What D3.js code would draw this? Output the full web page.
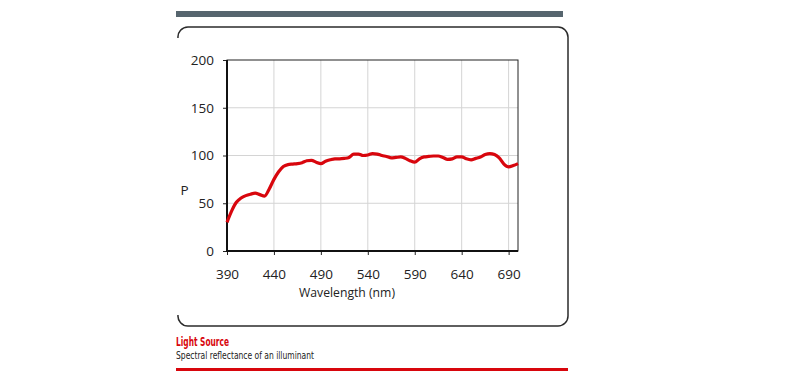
<!DOCTYPE html>
<html lang="en">
<head>
<meta charset="UTF-8">
<script src="https://d3js.org/d3.v7.min.js"></script>
<style>
  body { margin: 0; background: #fff; }
  svg { display: block; }
</style>
</head>
<body>
<div id="container"></div>
<script>
// wavelength (nm) and relative power
const wavelengths = [390, 395, 400, 405, 410, 415, 420, 425, 430, 435, 440, 445, 450, 455, 460, 465,
  470, 475, 480, 485, 490, 495, 500, 505, 510, 515, 520, 525, 530, 535, 540, 545, 550, 555, 560,
  565, 570, 575, 580, 585, 590, 595, 600, 605, 610, 615, 620, 625, 630, 635, 640, 645, 650, 655,
  660, 665, 670, 675, 680, 685, 690, 695, 700];
const power = [30, 42, 51, 55.5, 58, 59.5, 60.5, 59, 57.5, 65, 75, 83, 88.5, 90.5, 91, 91.5,
  92.5, 94.5, 95, 93, 91.5, 94, 95.5, 96.5, 96.5, 97, 98, 101.5, 101.5, 100, 100.5, 102, 101.5,
  100, 99, 97.5, 98, 98.5, 97, 94.5, 93, 96.5, 98.5, 99, 99.5, 99.5, 98, 96, 96.5, 98.5, 98.5,
  96.5, 95.5, 97, 98.5, 101, 102, 101, 97.5, 91, 88, 89.5, 91.5];
const xTicks = [390, 440, 490, 540, 590, 640, 690];
const yTicks = [0, 50, 100, 150, 200];

const W = 799, H = 380;
const plot = { left: 227, right: 518, top: 60, bottom: 251 };

const svg = d3.select("#container").append("svg")
  .attr("width", W)
  .attr("height", H);

// top grey band
svg.append("rect")
  .attr("x", 176).attr("y", 11)
  .attr("width", 387).attr("height", 6)
  .attr("fill", "#56656e");

// frame: rounded on the right, only corner hooks on the left
const r = 10, bx0 = 178, bx1 = 568, by0 = 27, by1 = 326;
svg.append("path")
  .attr("d", `M${bx0},${by0 + r + 1} A${r},${r} 0 0 1 ${bx0 + r},${by0}` +
    ` H${bx1 - r} A${r},${r} 0 0 1 ${bx1},${by0 + r} V${by1 - r}` +
    ` A${r},${r} 0 0 1 ${bx1 - r},${by1} H${bx0 + r} A${r},${r} 0 0 1 ${bx0},${by1 - r - 1}`)
  .attr("fill", "none")
  .attr("stroke", "#2b2b2b")
  .attr("stroke-width", 1.5);

const x = d3.scaleLinear().domain([390, 700]).range([plot.left, plot.right]);
const y = d3.scaleLinear().domain([0, 200]).range([plot.bottom, plot.top]);

// grid
svg.append("g")
  .selectAll("line")
  .data(xTicks.slice(1))
  .join("line")
  .attr("x1", d => x(d)).attr("x2", d => x(d))
  .attr("y1", plot.top).attr("y2", plot.bottom)
  .attr("stroke", "#d4d4d4");
svg.append("g")
  .selectAll("line")
  .data(yTicks.slice(1, -1))
  .join("line")
  .attr("x1", plot.left).attr("x2", plot.right)
  .attr("y1", d => y(d)).attr("y2", d => y(d))
  .attr("stroke", "#d4d4d4");

const font = "'Open Sans', sans-serif";

const xAxis = svg.append("g")
  .attr("transform", `translate(0,${plot.bottom})`)
  .call(d3.axisBottom(x).tickValues(xTicks).tickSize(4).tickPadding(14).tickFormat(d3.format("d")));
const yAxis = svg.append("g")
  .attr("transform", `translate(${plot.left},0)`)
  .call(d3.axisLeft(y).tickValues(yTicks).tickSize(4).tickPadding(9));
[xAxis, yAxis].forEach(g => {
  g.select(".domain").remove();
  g.selectAll(".tick line").attr("stroke", "#222");
  g.selectAll(".tick text")
    .attr("fill", "#222")
    .style("font-family", font)
    .style("font-size", "13.5px");
});

// plot border
svg.append("rect")
  .attr("x", plot.left).attr("y", plot.top)
  .attr("width", plot.right - plot.left).attr("height", plot.bottom - plot.top)
  .attr("fill", "none").attr("stroke", "#222").attr("stroke-width", 1);
svg.append("path")
  .attr("d", `M${plot.left},${plot.top} V${plot.bottom} H${plot.right}`)
  .attr("fill", "none").attr("stroke", "#111").attr("stroke-width", 2);

// curve
const pts = wavelengths.map((w, i) => [w, power[i]]);
svg.append("path")
  .datum(pts)
  .attr("fill", "none")
  .attr("stroke", "#d8060d")
  .attr("stroke-width", 3.2)
  .attr("stroke-linejoin", "round")
  .attr("d", d3.line().x(d => x(d[0])).y(d => y(d[1])).curve(d3.curveMonotoneX));

// axis titles
svg.append("text")
  .attr("x", 184.5).attr("y", 195)
  .attr("text-anchor", "middle")
  .style("font-family", font).style("font-size", "13.5px")
  .attr("fill", "#222")
  .text("P");
svg.append("text")
  .attr("x", 347).attr("y", 297)
  .attr("text-anchor", "middle")
  .attr("textLength", 96).attr("lengthAdjust", "spacingAndGlyphs")
  .style("font-family", font).style("font-size", "13.5px")
  .attr("fill", "#222")
  .text("Wavelength (nm)");

// caption (condensed face squeezed to the reference widths)
const capFont = "'Liberation Sans Narrow', 'DejaVu Sans Condensed', sans-serif";
svg.append("text")
  .attr("x", 176).attr("y", 346)
  .attr("textLength", 53).attr("lengthAdjust", "spacingAndGlyphs")
  .style("font-family", capFont).style("font-size", "11.5px")
  .style("font-weight", "bold")
  .attr("fill", "#d8060d")
  .text("Light Source");
svg.append("text")
  .attr("x", 176).attr("y", 358.5)
  .attr("textLength", 138).attr("lengthAdjust", "spacingAndGlyphs")
  .style("font-family", capFont).style("font-size", "10.8px")
  .attr("fill", "#222")
  .text("Spectral reflectance of an illuminant");

svg.append("rect")
  .attr("x", 176).attr("y", 368)
  .attr("width", 392).attr("height", 3)
  .attr("fill", "#d8060d");
</script>
</body>
</html>
